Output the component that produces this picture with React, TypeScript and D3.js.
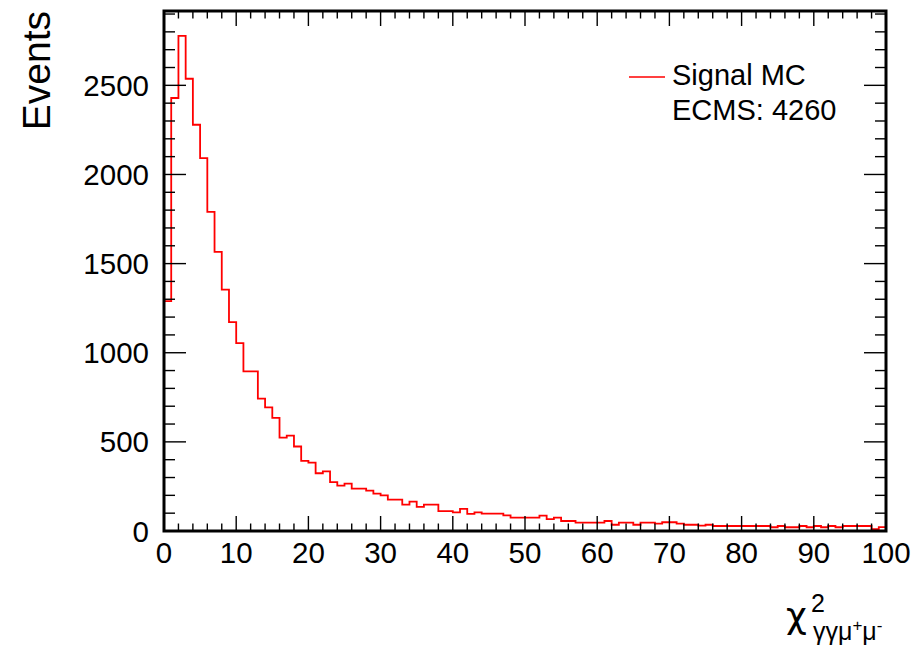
import React from "react";
import * as d3 from "d3";

const binEdges: number[] = [0, 100];
const binCounts: number[] = [
  1290, 2429, 2777, 2537, 2279, 2092, 1790, 1566, 1354, 1172,
  1054, 895, 895, 743, 693, 635, 524, 535, 474, 393,
  384, 324, 335, 274, 255, 266, 238, 238, 226, 210,
  200, 176, 176, 148, 165, 135, 148, 148, 112, 112,
  105, 124, 96, 105, 97, 97, 97, 88, 75, 75,
  75, 75, 86, 67, 75, 56, 56, 47, 47, 47,
  47, 56, 35, 47, 47, 35, 47, 47, 41, 49,
  49, 41, 35, 35, 30, 35, 28, 28, 28, 28,
  28, 28, 28, 28, 21, 28, 21, 21, 28, 21,
  28, 21, 28, 21, 28, 28, 28, 28, 10, 22,
];
const yMajorTicks: number[] = [0, 500, 1000, 1500, 2000, 2500];
const xMajorTicks: number[] = [0, 10, 20, 30, 40, 50, 60, 70, 80, 90, 100];
const legendLabel = "Signal MC";
const legendNote = "ECMS: 4260";
const yTitle = "Events";

const W = 920;
const H = 649;
const left = 164;
const right = 886;
const top = 11;
const bottom = 531;
const yMax = 2917;

export default function App() {
  const x = d3.scaleLinear().domain(binEdges).range([left, right]);
  const y = d3.scaleLinear().domain([0, yMax]).range([bottom, top]);
  const nb = binCounts.length;
  const bw = (binEdges[1] - binEdges[0]) / nb;

  const pts: [number, number][] = [[0, 0]];
  binCounts.forEach((c, i) => {
    pts.push([i * bw, c]);
    pts.push([(i + 1) * bw, c]);
  });
  pts.push([binEdges[1], 0]);
  const line = d3
    .line<[number, number]>()
    .x((d) => x(d[0]))
    .y((d) => y(d[1]));

  const yMinor = d3.range(0, yMax, 100);
  const xMinor = d3.range(0, 100.001, 2);
  const font = "'Liberation Sans', Arial, Helvetica, sans-serif";

  return (
    <svg width={W} height={H} style={{ position: "absolute", left: 0, top: 0 }} fontFamily={font}>
      <rect x={0} y={0} width={W} height={H} fill="#fff" />
      <path d={line(pts) || ""} fill="none" stroke="#ff0000" strokeWidth={1.8} />
      {yMinor.map((v) => {
        const major = v % 500 === 0;
        const len = major ? 22 : 11;
        return (
          <g key={"y" + v}>
            <line x1={left} x2={left + len} y1={y(v)} y2={y(v)} stroke="#000" strokeWidth={1.4} />
            <line x1={right} x2={right - len} y1={y(v)} y2={y(v)} stroke="#000" strokeWidth={1.4} />
          </g>
        );
      })}
      {xMinor.map((v) => {
        const major = Math.abs(v % 10) < 1e-6;
        const len = major ? 15 : 7.5;
        return (
          <g key={"x" + v}>
            <line x1={x(v)} x2={x(v)} y1={bottom} y2={bottom - len} stroke="#000" strokeWidth={1.4} />
            <line x1={x(v)} x2={x(v)} y1={top} y2={top + len} stroke="#000" strokeWidth={1.4} />
          </g>
        );
      })}
      <rect x={left} y={top} width={right - left} height={bottom - top} fill="none" stroke="#000" strokeWidth={3} />
      {yMajorTicks.map((v) => (
        <text key={"yl" + v} x={149} y={y(v) + 10.5} textAnchor="end" fontSize={29.5} fill="#000">
          {v}
        </text>
      ))}
      {xMajorTicks.map((v) => (
        <text key={"xl" + v} x={x(v)} y={563} textAnchor="middle" fontSize={29.5} fill="#000">
          {v}
        </text>
      ))}
      <text transform={`translate(50, 11) rotate(-90)`} textAnchor="end" fontSize={39} fill="#000">
        {yTitle}
      </text>
      {/* x title */}
      <text x={786} y={628} fontSize={36} fill="#000" fontFamily="'DejaVu Sans', sans-serif">χ</text>
      <text x={811} y={612} fontSize={25} fill="#000">2</text>
      <text x={813} y={640} fontSize={25} fill="#000">
        γγμ
        <tspan fontSize={17} dy={-9}>+</tspan>
        <tspan dy={9}>μ</tspan>
        <tspan fontSize={17} dy={-9}>-</tspan>
      </text>
      {/* legend */}
      <line x1={629} x2={665} y1={77} y2={77} stroke="#ff0000" strokeWidth={1.4} />
      <text x={672} y={85} fontSize={29} fill="#000">{legendLabel}</text>
      <text x={672} y={120} fontSize={29} fill="#000">{legendNote}</text>
    </svg>
  );
}
